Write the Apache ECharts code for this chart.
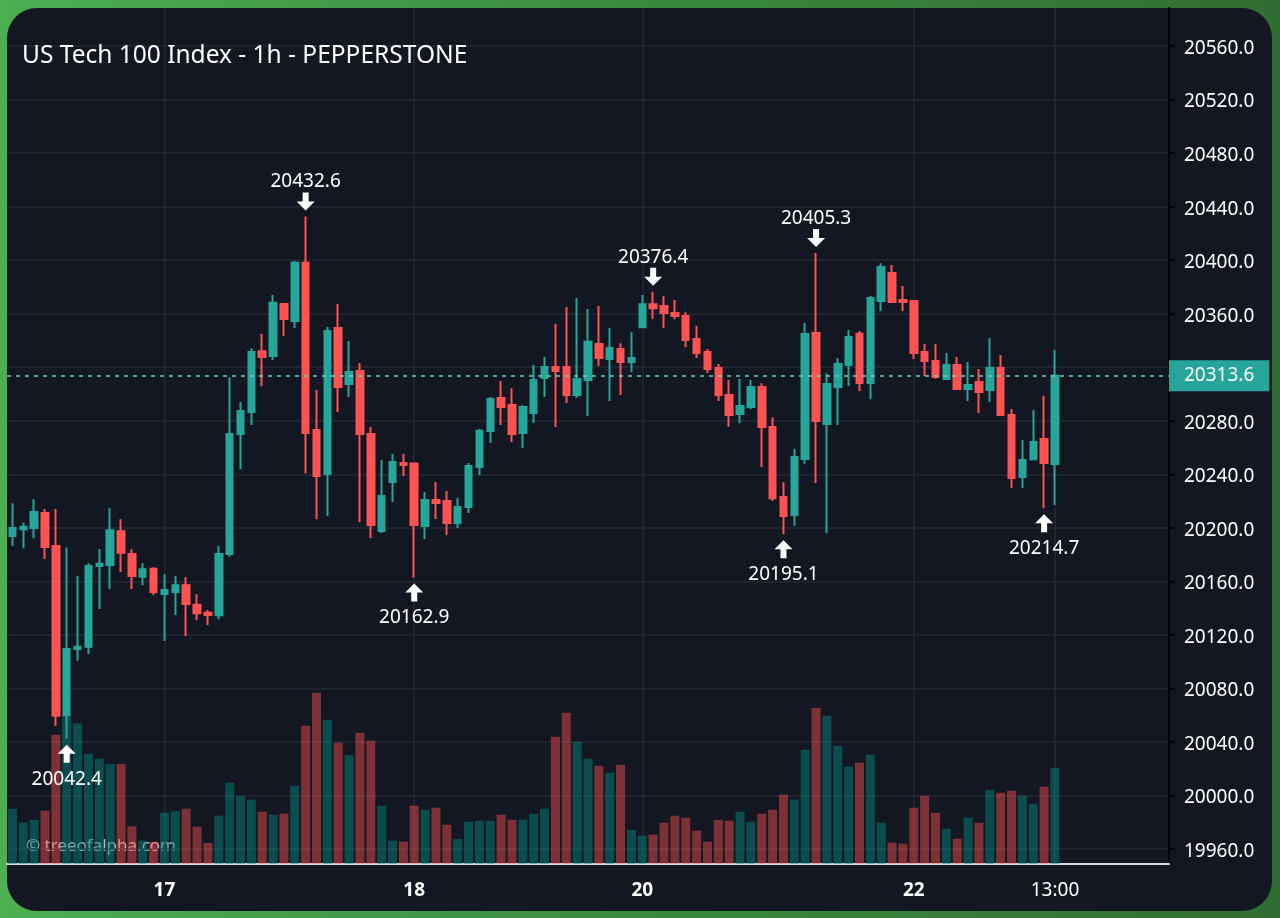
<!DOCTYPE html>
<html>
<head>
<meta charset="utf-8">
<title>US Tech 100 Index - 1h - PEPPERSTONE</title>
<script src="https://cdn.jsdelivr.net/npm/echarts@6/dist/echarts.min.js"></script>
<style>
  html, body { margin: 0; width: 1280px; height: 918px; overflow: hidden; }
  body { background: linear-gradient(to right, #4caf50 0%, #3a8a3e 50%, #2f6e32 100%); }
  #card { position: absolute; left: 7px; top: 8px; width: 1265px; height: 903px; border-radius: 30px; background: #131722; }
  #main { position: absolute; left: 0; top: 0; width: 1280px; height: 918px; }
</style>
</head>
<body>
<div id="card"></div>
<div id="main"></div>
<script>
const opens = [
  20193.9, 20198.9, 20199.8, 20211.1, 20186.4, 20060.1, 20109.4, 20111.2, 20171.5, 20172.2,
  20197.4, 20180.4, 20163.5, 20169.5, 20150.5, 20152.1, 20157.1, 20142.6, 20136.6, 20134.6,
  20180.4, 20270.1, 20286.5, 20331.9, 20328.4, 20367.2, 20354.5, 20398.1, 20273.1, 20240.2,
  20349.3, 20307.5, 20317.2, 20270.1, 20197.6, 20234.2, 20248.4, 20248, 20201.4, 20220.8,
  20220, 20203.6, 20215.6, 20245.4, 20272.4, 20297, 20291.8, 20270.9, 20285.8, 20312,
  20320.2, 20320.2, 20299.2, 20310.5, 20337.4, 20326.2, 20333.6, 20323.9, 20349.8, 20367,
  20365.7, 20360.5, 20358.3, 20341.1, 20331.4, 20319.4, 20299.2, 20285, 20290.3, 20305.2,
  20275.3, 20223, 20209.6, 20251.4, 20345.6, 20277.6, 20305.2, 20321.7, 20345, 20308.2,
  20369.5, 20390.4, 20370.2, 20369.5, 20331.4, 20324.7, 20311.2, 20321.7, 20303.7, 20309,
  20303, 20319.4, 20284.3, 20238, 20251.2, 20266.4, 20247.7
];
const closes = [
  20199.8, 20200.8, 20211.8, 20185.7, 20059.6, 20109.4, 20111.2, 20171.5, 20173.2, 20198.2,
  20181.4, 20164, 20169, 20152.1, 20153.5, 20157.1, 20143.1, 20136.1, 20134.8, 20180.4,
  20270.1, 20287.3, 20331.4, 20327.6, 20368.2, 20356, 20398.1, 20270.9, 20238.7, 20347.1,
  20305.2, 20316.4, 20270.1, 20202.1, 20223.8, 20249.2, 20247, 20202.1, 20220.8, 20218.6,
  20203.6, 20215.6, 20246.2, 20272.6, 20296.3, 20290.3, 20270.1, 20290.3, 20310.5, 20320.2,
  20317.2, 20299.2, 20311.2, 20339.1, 20326.9, 20334.4, 20323.9, 20326.9, 20367, 20364,
  20360.5, 20358.3, 20340.3, 20330.6, 20318.7, 20299.2, 20284.3, 20291, 20305.2, 20275.3,
  20222, 20208.8, 20252.9, 20344.8, 20279.8, 20307.5, 20322.4, 20342.6, 20308.2, 20371.7,
  20394.9, 20368.7, 20368.7, 20330.6, 20324.7, 20312.7, 20321.7, 20303.7, 20306.7, 20301.5,
  20319.4, 20284.3, 20237.2, 20250.7, 20264.1, 20248.4, 20313.6
];
const lows = [
  20186.4, 20184.7, 20192.2, 20176.7, 20051.9, 20042.4, 20100.7, 20105.7, 20139.4, 20154.3,
  20167, 20154.3, 20157.1, 20149.8, 20115.4, 20134.8, 20119.2, 20131.1, 20127.4, 20131.7,
  20178.4, 20243.7, 20276.8, 20306, 20325.4, 20343.3, 20349.3, 20240.7, 20206.4, 20208.8,
  20286.5, 20297.8, 20204.4, 20192.4, 20196.1, 20219.3, 20238.7, 20162.9, 20191.7, 20206.6,
  20194.6, 20199.8, 20211.1, 20239.5, 20263.4, 20276.8, 20264.1, 20259.7, 20278.4, 20297.8,
  20275.3, 20293.3, 20297, 20283.6, 20320.9, 20294.8, 20299.2, 20316.4, 20349.6, 20356,
  20349.3, 20355.8, 20335, 20326.9, 20315.7, 20294.8, 20275.6, 20278.4, 20288.8, 20245.4,
  20220, 20195.1, 20201.4, 20247.9, 20233.5, 20196.1, 20276.8, 20306, 20302.2, 20296.3,
  20362, 20368, 20362, 20326.2, 20313.5, 20311.4, 20310.8, 20303, 20294.8, 20285.8,
  20294, 20283.6, 20229.8, 20229.8, 20250.7, 20214.7, 20217.1
];
const highs = [
  20218.3, 20203.8, 20221.3, 20214, 20214, 20185.2, 20164, 20173.5, 20184.2, 20214.6,
  20206.4, 20184, 20173.5, 20170.5, 20165.3, 20164, 20163, 20150.3, 20138.6, 20186.4,
  20312.5, 20294, 20334.1, 20344.8, 20374, 20367.5, 20399.6, 20432.6, 20303, 20350.1,
  20367.2, 20339.6, 20323.2, 20275.3, 20250.7, 20255.2, 20255.2, 20248.5, 20226.8, 20234.2,
  20227.5, 20222.3, 20248.4, 20273.9, 20297.8, 20309.7, 20304.3, 20291.6, 20321.7, 20327.6,
  20352.3, 20365, 20371.7, 20363.5, 20365.7, 20349.3, 20337.9, 20346.1, 20374, 20376.4,
  20373.2, 20370.2, 20361, 20350.8, 20333.6, 20322.4, 20310.5, 20311.2, 20310.5, 20308,
  20282.6, 20234, 20258.9, 20353, 20405.3, 20315.5, 20326.9, 20347.8, 20347.1, 20373.2,
  20397.6, 20396.4, 20380.7, 20370, 20337.4, 20337.4, 20330.6, 20327.6, 20323.9, 20318.7,
  20341.8, 20329.1, 20288.8, 20265.6, 20288, 20298.5, 20332.9
];
// volume has no scale on the picture, so these are relative units
const volumes = [
  553, 413, 440, 533, 1293, 1500, 1407, 1103, 1053, 1000,
  1000, 377, 233, 223, 513, 527, 553, 373, 210, 483,
  813, 677, 643, 523, 493, 503, 783, 1383, 1713, 1443,
  1213, 1087, 1313, 1233, 583, 233, 223, 583, 543, 563,
  393, 250, 423, 433, 433, 493, 443, 443, 503, 553,
  1273, 1513, 1223, 1053, 983, 913, 993, 340, 283, 293,
  413, 483, 463, 333, 223, 440, 433, 523, 423, 503,
  543, 693, 643, 1143, 1560, 1483, 1183, 973, 1013, 1093,
  413, 213, 203, 563, 683, 513, 353, 253, 463, 413,
  743, 713, 733, 683, 603, 773, 963
];

const priceTicks = [19960, 20000, 20040, 20080, 20120, 20160, 20200, 20240, 20280, 20320, 20360, 20400, 20440, 20480, 20520, 20560];
const xTickSlots = [14, 37, 58, 83, 96];
const xTickLabels = ['{b|17}', '{b|18}', '{b|20}', '{b|22}', '13:00'];
const highMarks = [27, 59, 74];
const lowMarks = [5, 37, 71, 95];
const slotCount = 107;

const UP = '#26a69a';
const DOWN = '#ff5252';
const UP_VOL = 'rgba(4,132,122,0.5)';
const DOWN_VOL = 'rgba(255,82,82,0.45)';
const GRID = '#262a35';
const FONT = '"Noto Sans", sans-serif';
const lastClose = closes[closes.length - 1];

const slots = Array.from({ length: slotCount }, (_, i) => String(i));
const isXTick = (i) => xTickSlots.includes(i);

const ARROW_DOWN = 'path://M6 0H12V9H18L9 18L0 9H6Z';
const ARROW_UP = 'path://M9 0L18 9H12V18H6V9H0Z';

function markItem(i, isHigh) {
  const value = isHigh ? highs[i] : lows[i];
  return {
    coord: [i, value],
    value: value.toFixed(1),
    symbol: isHigh ? ARROW_DOWN : ARROW_UP,
    symbolSize: 18,
    symbolOffset: [0, isHigh ? -15 : 15],
    label: {
      show: true,
      formatter: '{c}',
      position: isHigh ? 'top' : 'bottom',
      distance: isHigh ? 1 : 7,
      color: '#fff',
      fontFamily: FONT,
      fontSize: 19
    },
    itemStyle: { color: '#fff' }
  };
}

const chart = echarts.init(document.getElementById('main'), null, { renderer: 'canvas' });
chart.setOption({
  animation: false,
  backgroundColor: 'transparent',
  title: {
    text: 'US Tech 100 Index - 1h - PEPPERSTONE',
    left: 17,
    top: 39,
    textStyle: { color: '#fff', fontFamily: FONT, fontSize: 24.5, fontWeight: 'normal' }
  },
  graphic: [{
    type: 'text',
    left: 26,
    top: 838,
    silent: true,
    style: { text: '© treeofalpha.com', fill: 'rgba(255,255,255,0.72)', font: '17px ' + FONT }
  }],
  grid: { left: 7, right: 111, top: 8, bottom: 54 },
  xAxis: {
    type: 'category',
    data: slots,
    axisLine: { lineStyle: { color: '#d8dae0', width: 2 } },
    axisTick: {
      alignWithLabel: true,
      length: 5,
      interval: (i) => isXTick(i),
      lineStyle: { color: '#d8dae0' }
    },
    axisLabel: {
      interval: (i) => isXTick(i),
      formatter: (v, i) => xTickLabels[xTickSlots.indexOf(i)],
      color: '#fff',
      fontFamily: FONT,
      fontSize: 19,
      margin: 17,
      rich: { b: { color: '#fff', fontFamily: FONT, fontSize: 19, fontWeight: 'bold' } }
    },
    splitLine: {
      show: true,
      alignWithLabel: true,
      interval: (i) => isXTick(i),
      lineStyle: { color: GRID, width: 1.5 }
    }
  },
  yAxis: [{
    type: 'value',
    position: 'right',
    min: 19948.8,
    max: 20588.4,
    axisLine: { show: true, lineStyle: { color: '#000', width: 2 } },
    axisTick: { show: true, length: 6, customValues: priceTicks, lineStyle: { color: '#000', width: 2 } },
    axisLabel: {
      customValues: priceTicks,
      hideOverlap: false,
      showMinLabel: true,
      showMaxLabel: true,
      // 20320 sits under the last price tag
      formatter: (v) => (v === 20320 ? '' : '{p|' + v.toFixed(1) + '}'),
      margin: 15,
      rich: { p: { color: '#fff', fontFamily: FONT, fontSize: 19, padding: [5, 0, 0, 0] } }
    },
    splitLine: { show: true, lineStyle: { color: GRID, width: 1.5 } }
  }, {
    type: 'value',
    min: 0,
    max: Math.max(...volumes) / 0.2,
    show: false
  }],
  series: [{
    name: 'Volume',
    type: 'bar',
    yAxisIndex: 1,
    barWidth: 9,
    z: 1,
    data: volumes.map((v, i) => ({
      value: v,
      itemStyle: { color: closes[i] >= opens[i] ? UP_VOL : DOWN_VOL }
    }))
  }, {
    name: 'Price',
    type: 'candlestick',
    yAxisIndex: 0,
    barWidth: 7,
    z: 2,
    itemStyle: { color: UP, color0: DOWN, borderColor: UP, borderColor0: DOWN, borderWidth: 2 },
    data: opens.map((o, i) => [o, closes[i], lows[i], highs[i]]),
    markPoint: {
      silent: true,
      data: highMarks.map((i) => markItem(i, true)).concat(lowMarks.map((i) => markItem(i, false)))
    },
    markLine: {
      silent: true,
      symbol: 'none',
      lineStyle: { color: '#6fcfc4', type: [4, 5], width: 1.5 },
      label: {
        show: true,
        position: 'end',
        distance: 0,
        formatter: lastClose.toFixed(1),
        color: '#fff',
        backgroundColor: UP,
        fontFamily: FONT,
        fontSize: 19,
        padding: [7, 15, 5, 15]
      },
      data: [{ yAxis: lastClose }]
    }
  }]
});
</script>
</body>
</html>
